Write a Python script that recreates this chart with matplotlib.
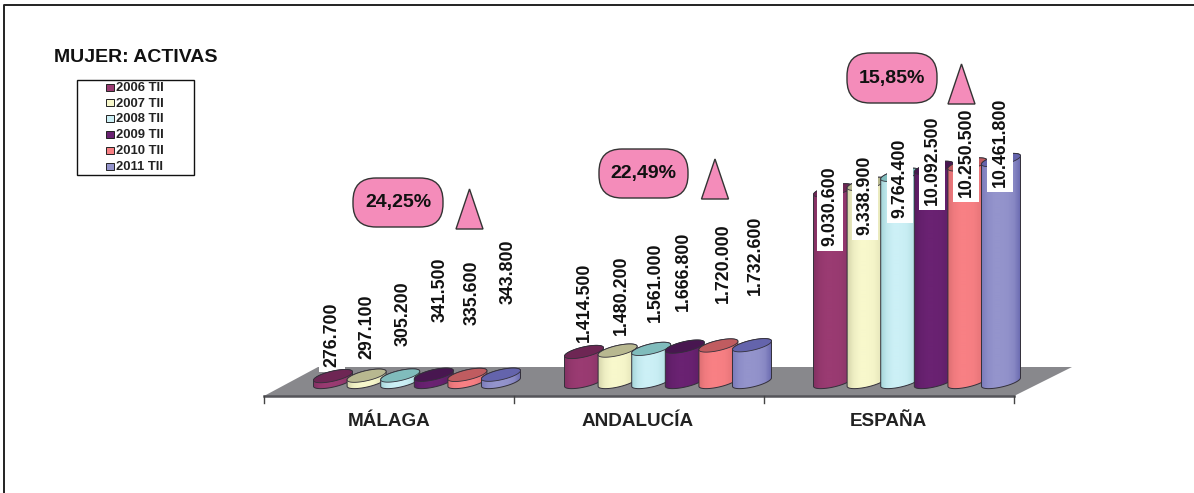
import matplotlib
matplotlib.use("Agg")
import matplotlib.pyplot as plt
import numpy as np
from matplotlib.colors import to_rgb
from matplotlib.patches import FancyBboxPatch, Polygon, Rectangle

plt.rcParams["font.family"] = ["Liberation Sans", "DejaVu Sans"]

# data
regions = ["MÁLAGA", "ANDALUCÍA", "ESPAÑA"]
periods = ["2006 TII", "2007 TII", "2008 TII", "2009 TII", "2010 TII", "2011 TII"]
malaga = [276700, 297100, 305200, 341500, 335600, 343800]
andalucia = [1414500, 1480200, 1561000, 1666800, 1720000, 1732600]
espana = [9030600, 9338900, 9764400, 10092500, 10250500, 10461800]
growth = ["24,25%", "22,49%", "15,85%"]

# colours: body, shaded edge / cap
COLORS = ["#9a3b72", "#f8f8cc", "#ccf0f6", "#6a2272", "#f88084", "#9494cc"]
DARK = ["#6e2654", "#b8b890", "#80bcbc", "#481650", "#c05c60", "#6464ac"]
PILL = "#f48cba"
FLOOR = "#88888c"

W, H = 1194, 493
PX_PER_UNIT = 222 / 10461800
BASE_Y = 382
BAR_W = 40
STEP = 33.6
GROUP_X = [313, 564, 813]
REGION_X = [389, 638, 888]

# value labels: centre x and bottom end of the rotated text, in image pixels
LABEL_X = [[332, 367, 403, 440, 472, 508],
           [584, 621, 655, 683, 723, 755],
           [830, 865, 900, 932, 966, 1000]]
LABEL_Y = [[367, 359, 346, 322, 325, 304],
           [342, 335, 322, 311, 303, 295],
           [246, 235, 218, 205, 197, 187]]
PILL_BOX = [(353, 178, 90, 49), (599, 149, 89, 49), (847, 53, 90, 50)]
TRI_X = [469.5, 715, 961.5]
TRI_Y = [189, 159, 64]


def tilted_ellipse(cx, cy, w, h, angle=-13, n=60):
    t = np.linspace(0, 2 * np.pi, n + 1)
    a = np.deg2rad(angle)
    x = w / 2 * np.cos(t)
    y = h / 2 * np.sin(t)
    return np.column_stack((cx + x * np.cos(a) - y * np.sin(a),
                            cy + x * np.sin(a) + y * np.cos(a)))


def cylinder(ax, x0, val, i, z):
    h = val * PX_PER_UNIT
    cx = x0 + BAR_W / 2
    base = tilted_ellipse(cx, BASE_Y, BAR_W, 10)
    top = tilted_ellipse(cx, BASE_Y - h, BAR_W, 10)
    # body outline = upper half of the top plus lower half of the base
    body = np.vstack((top[30:61], base[0:31]))
    patch = Polygon(body, closed=True, facecolor="none", edgecolor="none", zorder=z)
    ax.add_patch(patch)
    # horizontal shading
    grad = np.array([0.45, 0.85, 1.0, 1.0, 0.95, 0.75, 0.1])
    c0 = np.array(to_rgb(DARK[i]))
    c1 = np.array(to_rgb(COLORS[i]))
    xs = np.linspace(0, 1, 80)
    g = np.interp(xs, np.linspace(0, 1, len(grad)), grad)
    img = (c0[None, :] * (1 - g[:, None]) + c1[None, :] * g[:, None])[None, :, :]
    im = ax.imshow(img, extent=(x0, x0 + BAR_W, BASE_Y + 12, BASE_Y - h - 12),
                   aspect="auto", zorder=z, interpolation="bilinear")
    im.set_clip_path(patch)
    ax.add_patch(Polygon(body, closed=True, facecolor="none",
                         edgecolor="#33303a", linewidth=0.7, zorder=z + 0.1))
    ax.add_patch(Polygon(top, closed=True, facecolor=DARK[i],
                         edgecolor="#33303a", linewidth=0.6, zorder=z + 0.2))


fig = plt.figure(figsize=(W / 100, H / 100), dpi=100, facecolor="white")
ax = fig.add_axes([0, 0, 1, 1])
ax.axis("off")

# frame: only top and left show in the crop
ax.plot([4, 4, W], [H, 5, 5], color="#222222", lw=1.4)

# floor
ax.add_patch(Polygon([(264, 396), (1014, 396), (1072, 367), (318, 367)],
                     closed=True, facecolor=FLOOR, edgecolor="none", zorder=1))
ax.plot([264, 1014], [396, 396], color="#55555a", lw=1.8, zorder=2)
for k in range(4):
    tx = 264 + k * 250
    ax.plot([tx, tx], [396, 403], color="#444444", lw=1, zorder=2)

series = [malaga, andalucia, espana]
for g, vals in enumerate(series):
    for i, v in enumerate(vals):
        cylinder(ax, GROUP_X[g] + i * STEP, v, i, 3 + i)
        # the label boxes only sit on top of the bars in the tall group
        ax.text(LABEL_X[g][i], LABEL_Y[g][i], f"{v:,}".replace(",", "."),
                rotation=90, ha="center", va="bottom", fontsize=12.8,
                fontweight="bold", color="#111111", zorder=20 if g == 2 else 2.5,
                bbox=dict(facecolor="white", edgecolor="none", pad=3.5))
    ax.text(REGION_X[g], 422, regions[g], ha="center", va="center",
            fontsize=13.6, fontweight="bold", color="#222222")

    bx, by, bw, bh = PILL_BOX[g]
    ax.add_patch(FancyBboxPatch((bx + 23, by + 23), bw - 46, bh - 46,
                                boxstyle="round,pad=23", facecolor=PILL,
                                edgecolor="#333333", linewidth=1, zorder=21))
    ax.text(bx + bw / 2, by + bh / 2, growth[g], ha="center", va="center",
            fontsize=14, fontweight="bold", color="#111111", zorder=22)
    ax.add_patch(Polygon([(TRI_X[g] - 13.5, TRI_Y[g] + 40), (TRI_X[g] + 13.5, TRI_Y[g] + 40),
                          (TRI_X[g], TRI_Y[g])], closed=True, facecolor=PILL,
                         edgecolor="#333333", linewidth=1, zorder=21))

# title and legend
ax.text(54, 57, "MUJER: ACTIVAS", ha="left", va="center", fontsize=14,
        fontweight="bold", color="#111111")
ax.add_patch(Rectangle((77, 80), 117, 95, facecolor="white", edgecolor="#111111", lw=1))
for i, p in enumerate(periods):
    ly = 87 + i * 15.9
    ax.add_patch(Rectangle((106, ly - 3.5), 7.5, 7, facecolor=COLORS[i],
                           edgecolor="#222222", lw=0.7))
    ax.text(116, ly + 0.7, p, ha="left", va="center", fontsize=9.4, fontweight="bold",
            color="#222222")

ax.set_xlim(0, W)
ax.set_ylim(H, 0)
fig.savefig("out.png", dpi=100, facecolor="white")
